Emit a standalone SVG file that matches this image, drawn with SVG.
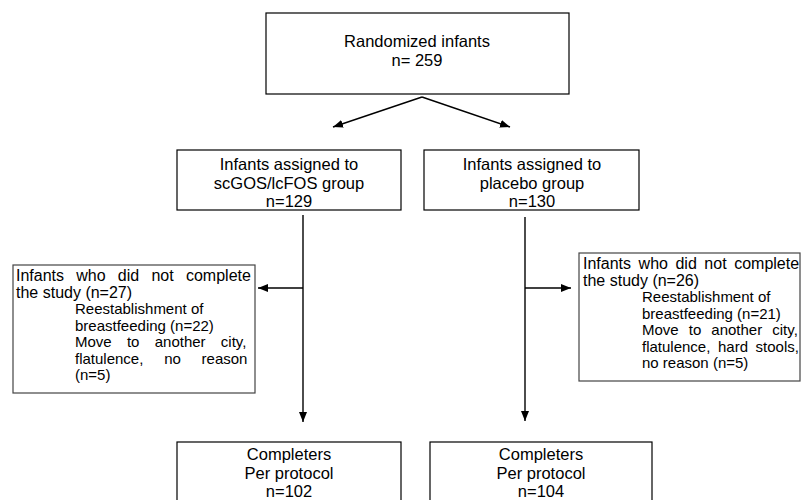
<svg xmlns="http://www.w3.org/2000/svg" width="802" height="500" viewBox="0 0 802 500">
<defs>
<marker id="ah" viewBox="0 0 10 8" refX="10" refY="4" markerWidth="10" markerHeight="8" markerUnits="userSpaceOnUse" orient="auto">
<path d="M0,0 L10,4 L0,8 Z" fill="#000"/>
</marker>
<style>
.box{fill:#fff;stroke:#000;stroke-width:1.2}
.sbox{fill:#fff;stroke:#444;stroke-width:1.2}
.t{font-family:"Liberation Sans",Arial,sans-serif;font-size:16.5px;fill:#000}
.c{text-anchor:middle}
.h{font-size:16px}
.s{font-size:15px}
.ln{stroke:#000;stroke-width:1.4;fill:none;marker-end:url(#ah)}
</style>
</defs>
<rect width="802" height="500" fill="#fff"/>
<g id="connectors">
<line class="ln" x1="422" y1="97" x2="333" y2="127"/>
<line class="ln" x1="422" y1="97" x2="510" y2="127"/>
<line class="ln" x1="303" y1="215" x2="303" y2="422"/>
<line class="ln" x1="525" y1="217" x2="525" y2="421"/>
<line class="ln" x1="303" y1="288" x2="258" y2="288"/>
<line class="ln" x1="525" y1="288" x2="571" y2="288"/>
</g>
<g id="randomized">
<rect class="box" x="266" y="13" width="303" height="81"/>
<text class="t c" x="417" y="47">Randomized infants</text>
<text class="t c" x="417" y="66">n= 259</text>
</g>
<g id="assigned-scgos">
<rect class="box" x="177" y="150" width="224" height="60"/>
<text class="t c" x="289" y="170">Infants assigned to</text>
<text class="t c" x="289" y="189">scGOS/lcFOS group</text>
<text class="t c" x="289" y="207">n=129</text>
</g>
<g id="assigned-placebo">
<rect class="box" x="424" y="150" width="215" height="60"/>
<text class="t c" x="532" y="170">Infants assigned to</text>
<text class="t c" x="532" y="189">placebo group</text>
<text class="t c" x="532" y="207">n=130</text>
</g>
<g id="dropout-scgos">
<rect class="sbox" x="13" y="265" width="242" height="128"/>
<text class="t h" x="16" y="281" style="word-spacing:7.8px">Infants who did not complete</text>
<text class="t h" x="16" y="297.5">the study (n=27)</text>
<text class="t s" x="75" y="314">Reestablishment of</text>
<text class="t s" x="75" y="330.5">breastfeeding (n=22)</text>
<text class="t s" x="75" y="347" style="word-spacing:11.1px">Move to another city,</text>
<text class="t s" x="75" y="363.5" style="word-spacing:16.6px">flatulence, no reason</text>
<text class="t s" x="75" y="380">(n=5)</text>
</g>
<g id="dropout-placebo">
<rect class="sbox" x="579" y="253" width="221" height="128"/>
<text class="t h" x="583" y="269" style="word-spacing:3.1px">Infants who did not complete</text>
<text class="t h" x="583" y="285.5">the study (n=26)</text>
<text class="t s" x="642" y="302">Reestablishment of</text>
<text class="t s" x="642" y="318.5">breastfeeding (n=21)</text>
<text class="t s" x="642" y="335" style="word-spacing:5.9px">Move to another city,</text>
<text class="t s" x="642" y="351.5" style="word-spacing:3.4px">flatulence, hard stools,</text>
<text class="t s" x="642" y="368">no reason (n=5)</text>
</g>
<g id="completers-scgos">
<rect class="box" x="177" y="442" width="224" height="70"/>
<text class="t c" x="289" y="460">Completers</text>
<text class="t c" x="289" y="478.5">Per protocol</text>
<text class="t c" x="289" y="497">n=102</text>
</g>
<g id="completers-placebo">
<rect class="box" x="430" y="442" width="222" height="70"/>
<text class="t c" x="541" y="460">Completers</text>
<text class="t c" x="541" y="478.5">Per protocol</text>
<text class="t c" x="541" y="497">n=104</text>
</g>
</svg>
